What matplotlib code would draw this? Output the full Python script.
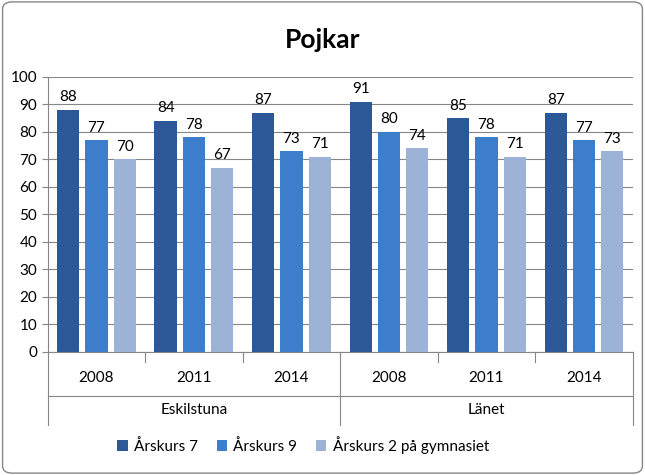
import matplotlib.pyplot as plt
from matplotlib.patches import FancyBboxPatch
import numpy as np

plt.rcParams['font.family'] = 'Lato'

grupper = ['Eskilstuna', 'Länet']
ar = ['2008', '2011', '2014', '2008', '2011', '2014']
serier = ['Årskurs 7', 'Årskurs 9', 'Årskurs 2 på gymnasiet']
ak7 = [88, 84, 87, 91, 85, 87]
ak9 = [77, 78, 73, 80, 78, 77]
gy2 = [70, 67, 71, 74, 71, 73]
farger = ['#2D5897', '#3C7DCC', '#9CB2D6']

fig = plt.figure(figsize=(6.45, 4.75), dpi=100)
fig.patches.append(FancyBboxPatch((0.004, 0.004), 0.992, 0.992, boxstyle='round,pad=0,rounding_size=0.015',
                                  transform=fig.transFigure, fill=False, ec='#868686', lw=1))
ax = fig.add_axes([0.074, 0.259, 0.907, 0.579])

x = np.arange(len(ar))
w = 0.23
for i, (vals, c) in enumerate(zip([ak7, ak9, gy2], farger)):
    pos = x + (i - 1) * 0.29
    ax.bar(pos, vals, w, color=c, label=serier[i], zorder=3)
    for p, v in zip(pos, vals):
        ax.text(p, v + 2, str(v), ha='center', va='bottom', fontsize=11)

ax.set_xlim(-0.5, 5.5)
ax.set_ylim(0, 100)
ax.set_yticks(range(0, 101, 10))
ax.tick_params(axis='y', labelsize=11, length=4, color='#868686')
ax.yaxis.grid(True, color='#868686', lw=0.8, zorder=0)
ax.set_xticks([])
for s in ['top', 'right']:
    ax.spines[s].set_visible(False)
for s in ['left', 'bottom']:
    ax.spines[s].set_color('#868686')

tr = ax.get_xaxis_transform()
for i, a in enumerate(ar):
    ax.text(i, -0.095, a, transform=tr, ha='center', va='center', fontsize=11)
for b in [0.5, 1.5, 3.5, 4.5]:
    ax.plot([b, b], [0, -0.035], transform=tr, color='#868686', lw=0.8, clip_on=False)
for b in [-0.5, 2.5, 5.5]:
    ax.plot([b, b], [0, -0.265], transform=tr, color='#868686', lw=0.8, clip_on=False)
ax.plot([-0.5, 5.5], [-0.16, -0.16], transform=tr, color='#868686', lw=0.8, clip_on=False)
for i, g in enumerate(grupper):
    ax.text(1 + 3 * i, -0.21, g, transform=tr, ha='center', va='center', fontsize=11)

fig.text(0.5, 0.915, 'Pojkar', ha='center', va='center', fontsize=19, fontweight='bold')
fig.legend(loc='center', bbox_to_anchor=(0.47, 0.063), ncol=3, frameon=False, fontsize=11,
           handlelength=0.7, handleheight=0.7, columnspacing=1.2, handletextpad=0.4)

fig.savefig('out.png', dpi=100)
